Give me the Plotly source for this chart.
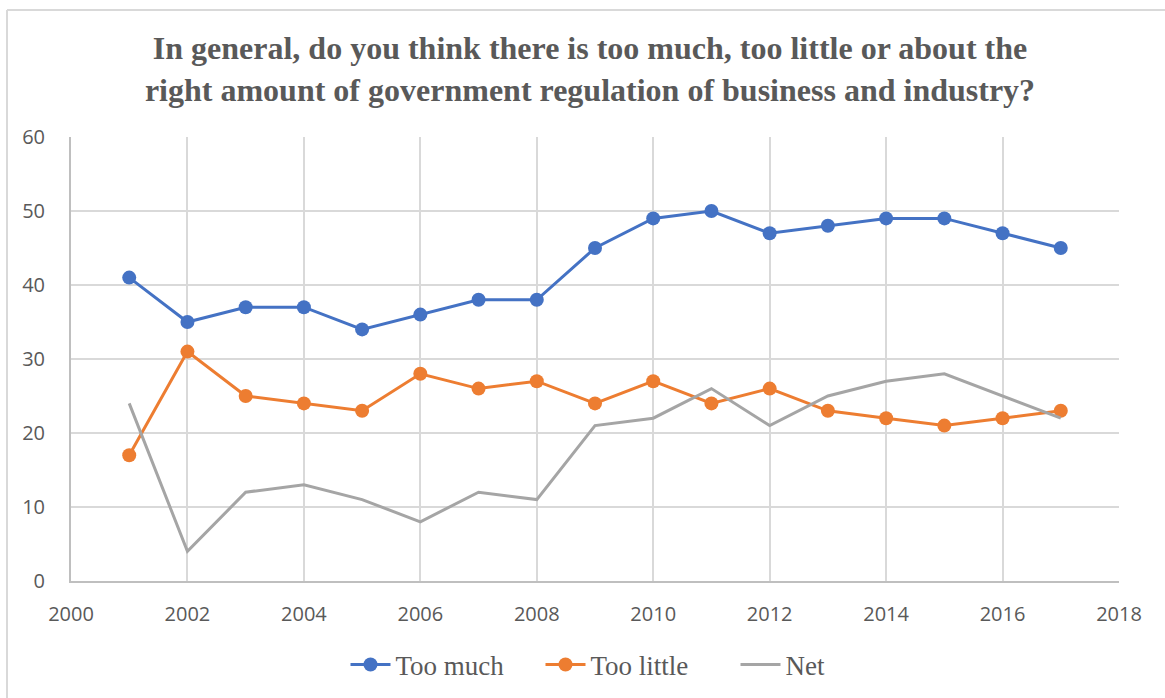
import plotly.graph_objects as go

years = list(range(2001, 2018))
too_much = [41, 35, 37, 37, 34, 36, 38, 38, 45, 49, 50, 47, 48, 49, 49, 47, 45]
too_little = [17, 31, 25, 24, 23, 28, 26, 27, 24, 27, 24, 26, 23, 22, 21, 22, 23]
net = [24, 4, 12, 13, 11, 8, 12, 11, 21, 22, 26, 21, 25, 27, 28, 25, 22]

title_text = ("In general, do you think there is too much, too little or about the<br>"
              "right amount of government regulation of business and industry?")

W, H = 1165, 698
L, R, T, B = 71, 46, 137, 117

fig = go.Figure()
fig.add_trace(go.Scatter(x=years, y=too_much, name="Too much", mode="lines+markers",
                         line=dict(color="#4472C4", width=3),
                         marker=dict(size=14, color="#4472C4")))
fig.add_trace(go.Scatter(x=years, y=too_little, name="Too little", mode="lines+markers",
                         line=dict(color="#ED7D31", width=3),
                         marker=dict(size=14, color="#ED7D31")))
fig.add_trace(go.Scatter(x=years, y=net, name="Net", mode="lines",
                         line=dict(color="#A5A5A5", width=3)))

pw = W - L - R
ph = H - T - B
bx0 = (7 - L) / pw
bx1 = (W + 20 - L) / pw
by1 = (H - B - 10) / ph
by0 = (H - B - (H + 20)) / ph
border = dict(color="#D9D9D9", width=2)
fig.add_shape(type="line", xref="paper", yref="paper", x0=bx0, x1=bx1, y0=by1, y1=by1, line=border)
fig.add_shape(type="line", xref="paper", yref="paper", x0=bx0, x1=bx0, y0=by0, y1=by1, line=border)

fig.update_layout(
    width=W, height=H,
    margin=dict(l=L, r=R, t=T, b=B),
    paper_bgcolor="white", plot_bgcolor="white",
    title=dict(text=title_text, x=590 / W, xanchor="center", xref="container",
               y=1 - 59 / H, yanchor="top", yref="container",
               font=dict(family="Liberation Serif", size=32, color="#595959", weight="bold")),
    xaxis=dict(range=[2000, 2018], tickvals=list(range(2000, 2019, 2)),
               showgrid=True, gridcolor="#D9D9D9", gridwidth=1.5,
               showline=True, linecolor="#BFBFBF", linewidth=2,
               zeroline=False, ticks="", ticklabelstandoff=14,
               tickfont=dict(family="Open Sans", size=20, color="#595959")),
    yaxis=dict(range=[0, 60], tickvals=list(range(0, 61, 10)),
               showgrid=True, gridcolor="#D9D9D9", gridwidth=1.5,
               showline=True, linecolor="#BFBFBF", linewidth=2,
               zeroline=False, ticks="", ticklabelstandoff=20,
               tickfont=dict(family="Open Sans", size=20, color="#595959")),
    legend=dict(orientation="h", x=638 / W, xref="container", xanchor="center",
                y=1 - 665 / H, yref="container", yanchor="middle",
                font=dict(family="Liberation Serif", size=27, color="#595959"),
                itemwidth=40, tracegroupgap=0,
                entrywidth=140, entrywidthmode="pixels"),
    showlegend=True,
)

fig.write_html("out.html")
